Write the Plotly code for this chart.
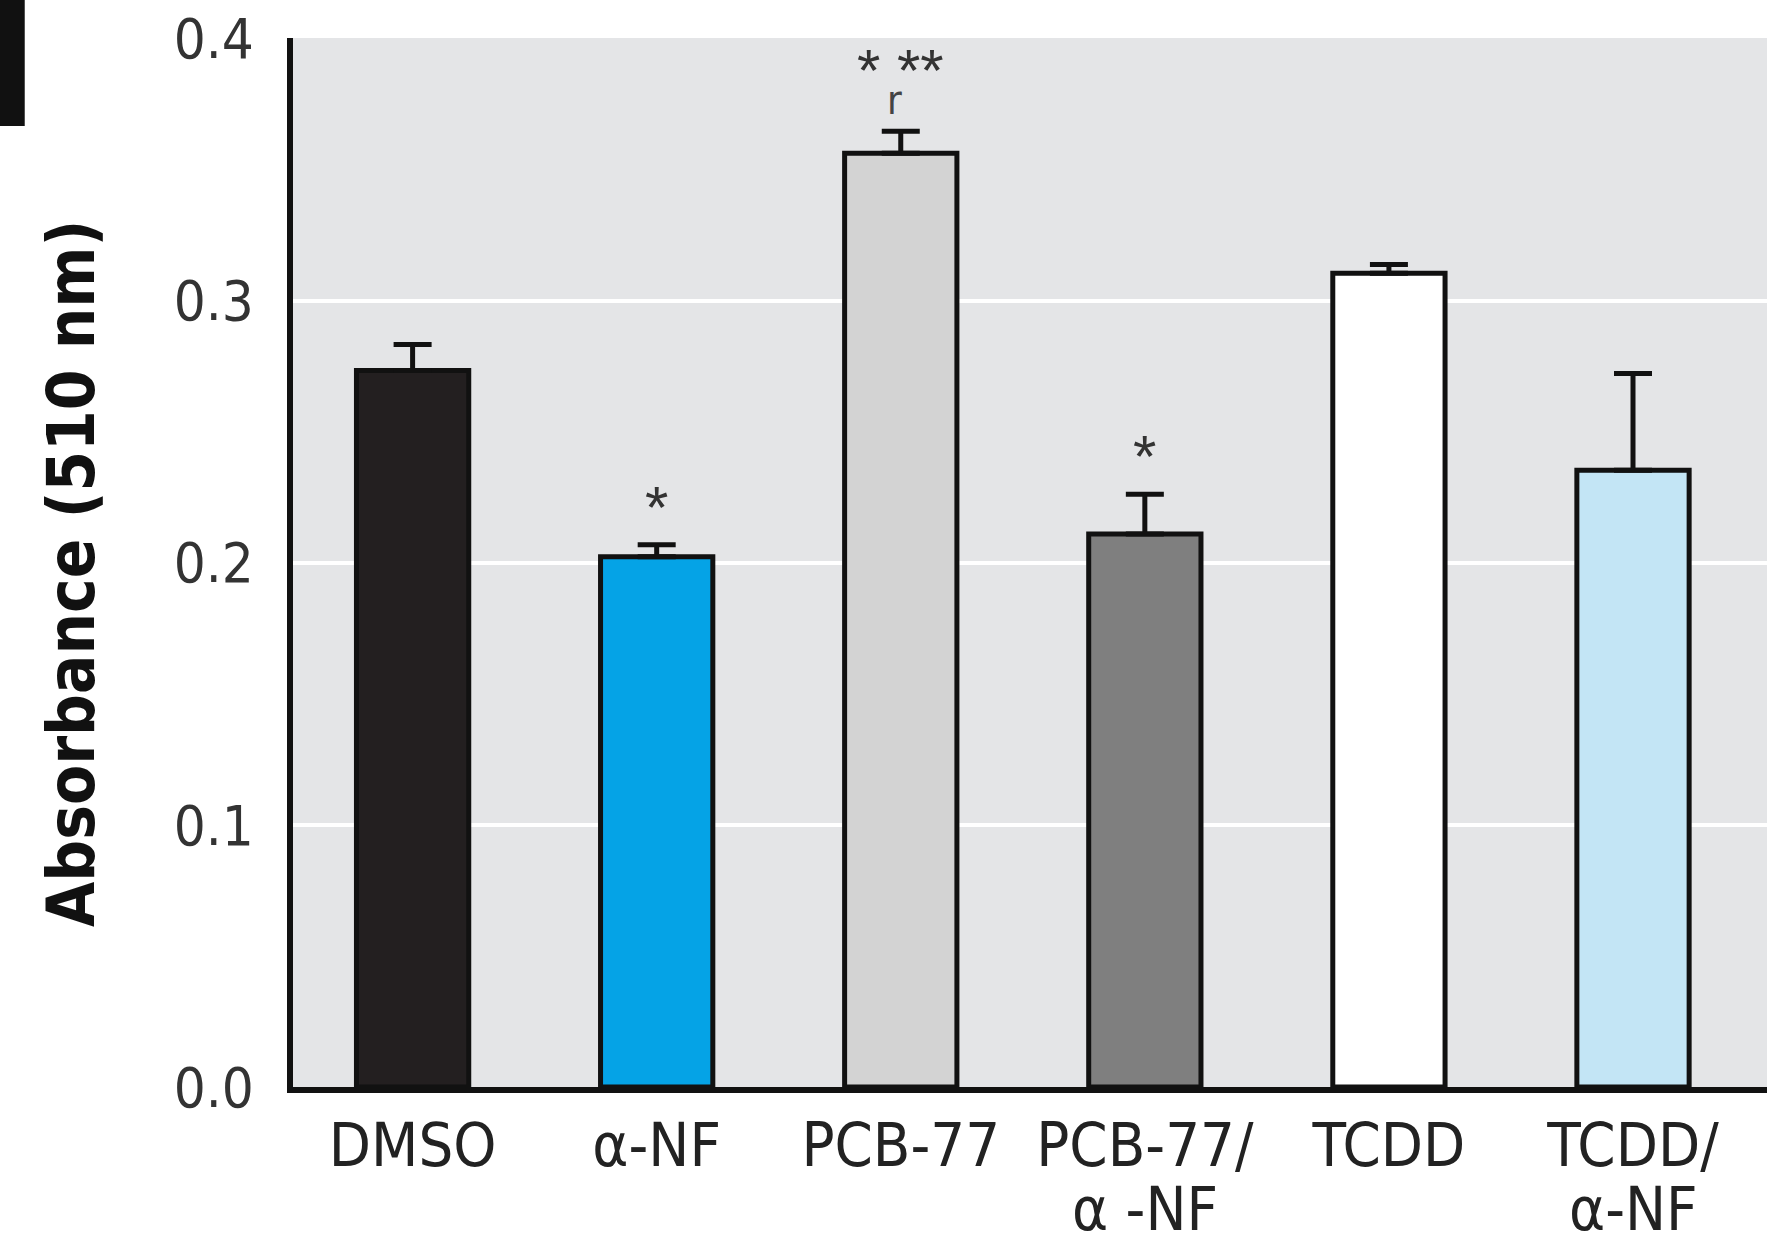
import plotly.graph_objects as go

# ---- data ----
categories = ["DMSO", "α-NF", "PCB-77", "PCB-77/α -NF", "TCDD", "TCDD/α-NF"]
label_line1 = ["DMSO", "α-NF", "PCB-77", "PCB-77/", "TCDD", "TCDD/"]
label_line2 = ["", "", "", "α -NF", "", "α-NF"]
absorbance = [0.2734, 0.2023, 0.3563, 0.2110, 0.3105, 0.2354]
sem = [0.0099, 0.0046, 0.0084, 0.0152, 0.0034, 0.0369]
sig_marks = ["", "*", "* **", "*", "", ""]
sig_sub = ["", "", "r", "", "", ""]
bar_colors = ["#231f20", "#05a3e6", "#d3d3d3", "#7f7f7f", "#ffffff", "#c3e5f5"]
y_ticks = [0.0, 0.1, 0.2, 0.3, 0.4]

FONT = "Liberation Sans Narrow, DejaVu Sans Condensed, Arial Narrow, sans-serif"
STAR_FONT = "Liberation Sans, Arial, sans-serif"

W, H = 1767, 1242
ML, MR, MT, MB = 293, 0, 38, 155

fig = go.Figure()
fig.add_trace(go.Bar(
    x=categories, y=absorbance,
    width=0.46,
    marker=dict(color=bar_colors, line=dict(color="#111111", width=5)),
    error_y=dict(type="data", array=sem, symmetric=False,
                 arrayminus=[0] * len(sem),
                 color="#111111", thickness=5, width=19),
    showlegend=False,
))

annotations = []
for c, v, e, s, sub in zip(categories, absorbance, sem, sig_marks, sig_sub):
    if s:
        annotations.append(dict(x=c, y=v + e, xref="x", yref="y", text=s,
                                showarrow=False, yanchor="bottom",
                                yshift=25 if sub else 2,
                                font=dict(family=STAR_FONT, size=60, color="#333333")))
    if sub:
        annotations.append(dict(x=c, y=v + e, xref="x", yref="y", text=sub,
                                showarrow=False, yanchor="bottom", yshift=6, xshift=-6,
                                font=dict(family=FONT, size=40, color="#444444")))
for c, s in zip(categories, label_line2):
    if s:
        annotations.append(dict(x=c, y=-0.116, xref="x", yref="paper", text=s,
                                showarrow=False, yanchor="middle",
                                font=dict(family=FONT, size=61, color="#222222")))
# y-axis title
annotations.append(dict(x=-0.150, y=0.49, xref="paper", yref="paper",
                        text="<b>Absorbance (510 nm)</b>", textangle=-90,
                        showarrow=False, xanchor="center", yanchor="middle",
                        font=dict(family=FONT, size=65, color="#111111")))

fig.update_layout(
    width=W, height=H,
    margin=dict(l=ML, r=MR, t=MT, b=MB),
    paper_bgcolor="white",
    plot_bgcolor="#e4e5e7",
    annotations=annotations,
    shapes=[dict(type="rect", xref="paper", yref="paper",
                 x0=-0.21, x1=-0.182, y0=0.916, y1=1.06,
                 fillcolor="#111111", line=dict(width=0))],
    xaxis=dict(
        type="category",
        range=[-0.49, 5.549],
        tickmode="array", tickvals=categories, ticktext=label_line1,
        tickfont=dict(family=FONT, size=61, color="#222222"),
        showline=True, linecolor="#111111", linewidth=6,
        showgrid=False, ticks="", zeroline=False,
    ),
    yaxis=dict(
        range=[0, 0.4003],
        tickmode="array", tickvals=y_ticks,
        ticktext=[f"{t:.1f}" for t in y_ticks],
        tickfont=dict(family=FONT, size=56, color="#333333"),
        showline=True, linecolor="#111111", linewidth=6,
        showgrid=True, gridcolor="white", gridwidth=4,
        ticks="", zeroline=False, ticklabelstandoff=22,
    ),
)

fig.write_html("out.html", config={"displayModeBar": False},
               post_script="document.body.style.margin='0';document.body.style.overflow='hidden';")
